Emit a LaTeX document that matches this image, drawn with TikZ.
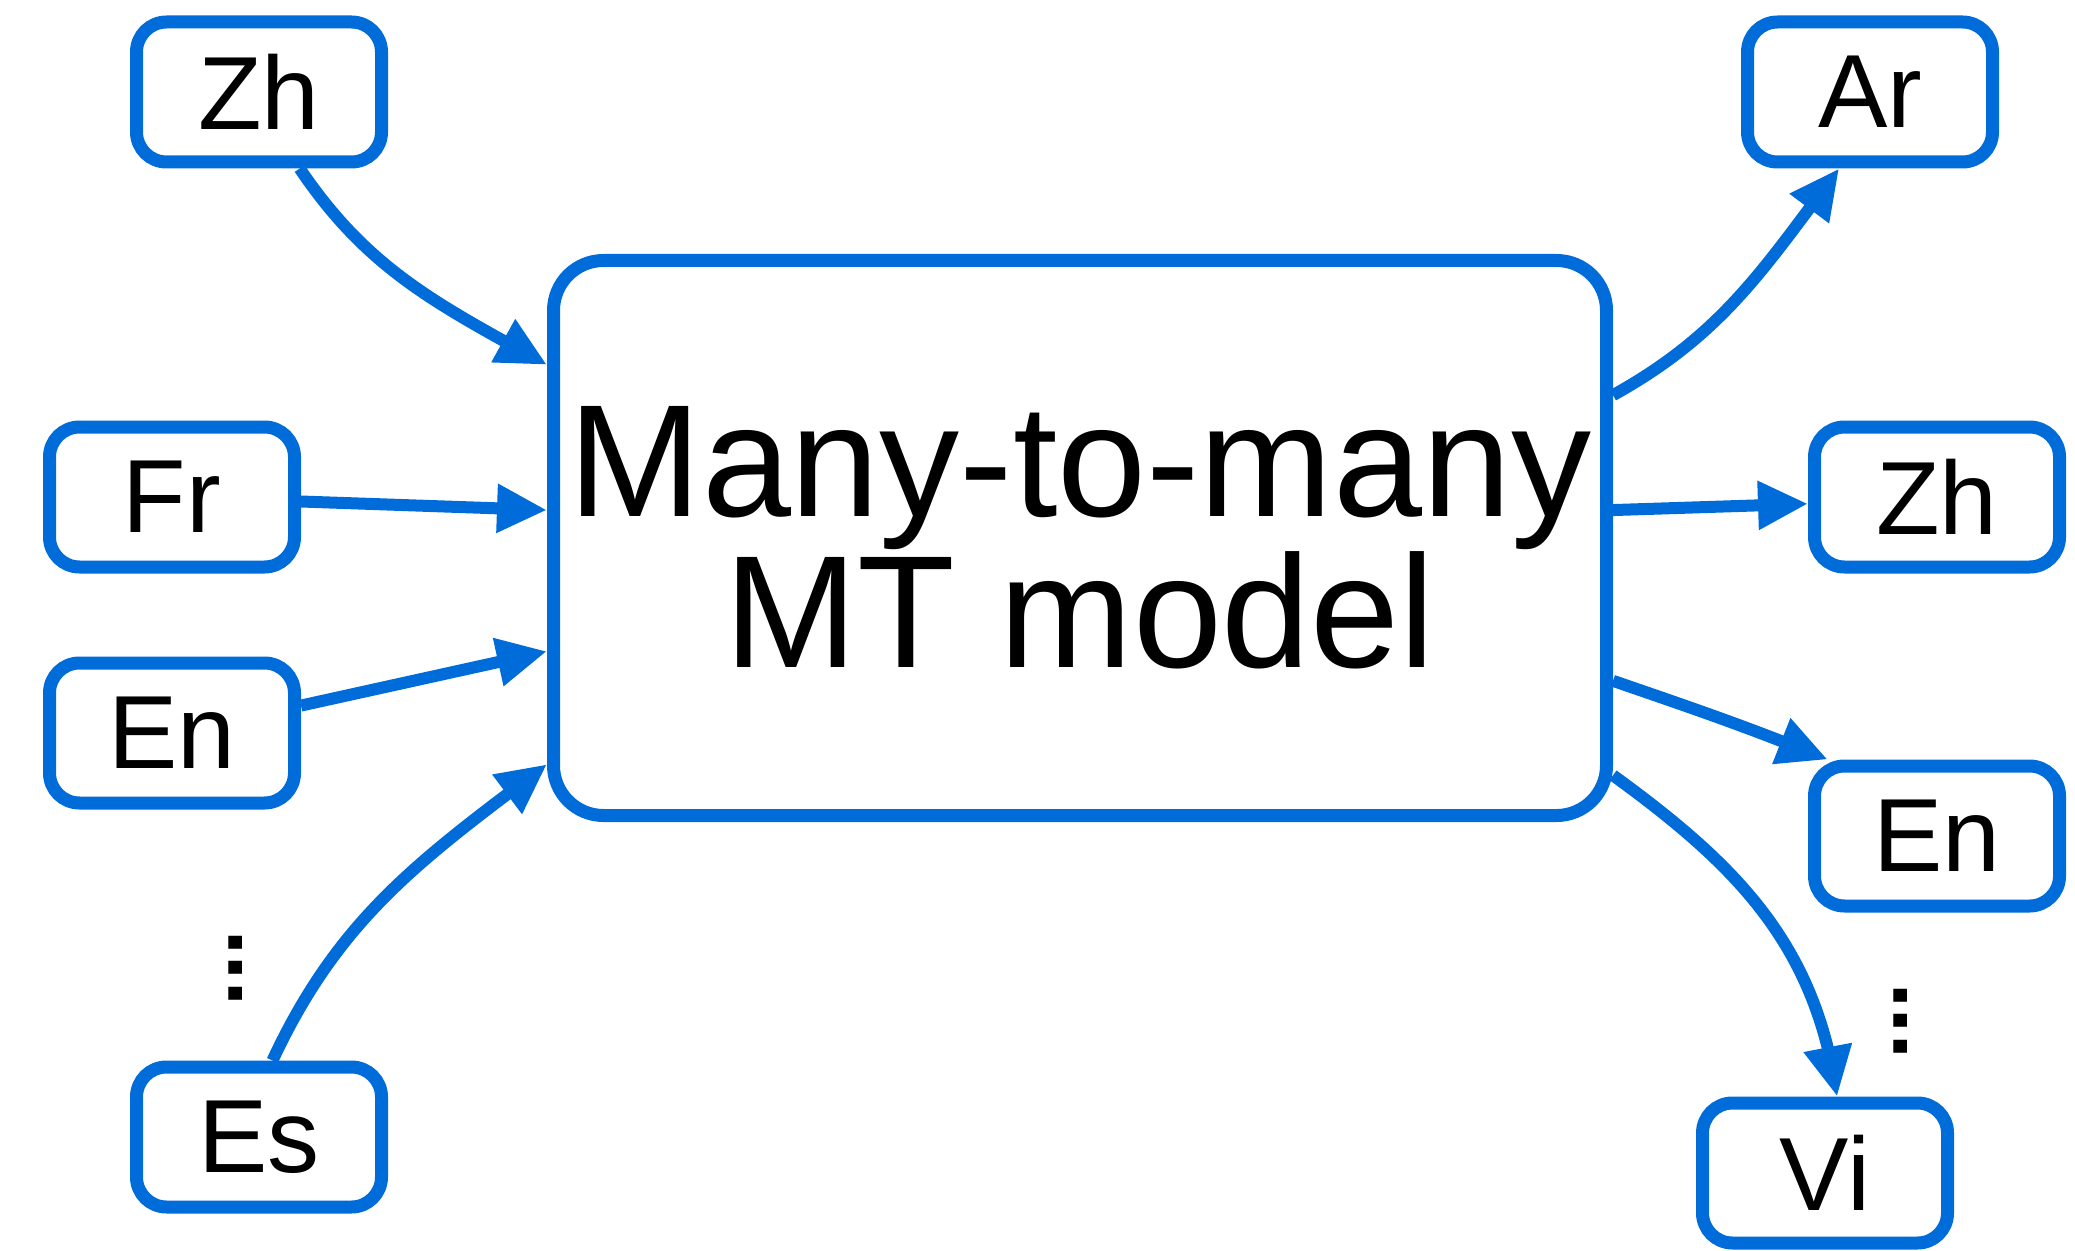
\documentclass[tikz,border=0pt]{standalone}
\usepackage{fontspec}
\setmainfont{Liberation Sans}
\usetikzlibrary{arrows.meta,bending}
\definecolor{langblue}{RGB}{0,108,217}
\begin{document}
\begin{tikzpicture}[x=0.5pt,y=-0.5pt,
	lang/.style={draw=langblue,line width=6.5pt,rounded corners=15pt,fill=white,
		minimum width=122.5pt,minimum height=70pt,inner sep=0pt,
		font=\fontsize{52}{52}\selectfont},
	model/.style={draw=langblue,line width=6.5pt,rounded corners=25pt,fill=white,
		minimum width=526.5pt,minimum height=277.5pt,inner sep=0pt,align=center,
		font=\fontsize{80}{73}\selectfont},
	flow/.style={draw=langblue,line width=6pt,-{Triangle[length=25pt,width=23pt]}},
	vdotsnode/.style={rotate=90,inner sep=0pt,font=\fontsize{46}{46}\selectfont\bfseries}]
	\useasboundingbox (0,0) rectangle (2075,1251);
	\node[model] (mt) at (1080,538) {Many-to-many\\MT model};
	\node[lang] (zhL) at (259,92) {Zh};
	\node[lang] (frL) at (172,497) {Fr};
	\node[lang] (enL) at (172,733) {En};
	\node[lang] (esL) at (259,1137) {Es};
	\node[lang] (arR) at (1870,92) {Ar};
	\node[lang] (zhR) at (1937,497) {Zh};
	\node[lang] (enR) at (1937,836) {En};
	\node[lang] (viR) at (1825,1173) {Vi};
	\node[vdotsnode] (dotsL) at (236,968) {...};
	\node[vdotsnode] (dotsR) at (1901,1021) {...};
	\draw[flow] (zhL.-62) to[out=-56,in=151] (mt.162);
	\draw[flow] (frL.-2) -- (mt.177);
	\draw[flow] (enL.12) -- (mt.192);
	\draw[flow] (esL.80) to[out=65,in=217] (mt.203);
	\draw[flow] (mt.15) to[out=29,in=233] (arR.248);
	\draw[flow] (mt.3) -- (zhR.183);
	\draw[flow] (mt.-15) to[out=-19,in=158] (enR.145);
	\draw[flow] (mt.-24) to[out=-36,in=98] (viR.81);
\end{tikzpicture}
\end{document}
